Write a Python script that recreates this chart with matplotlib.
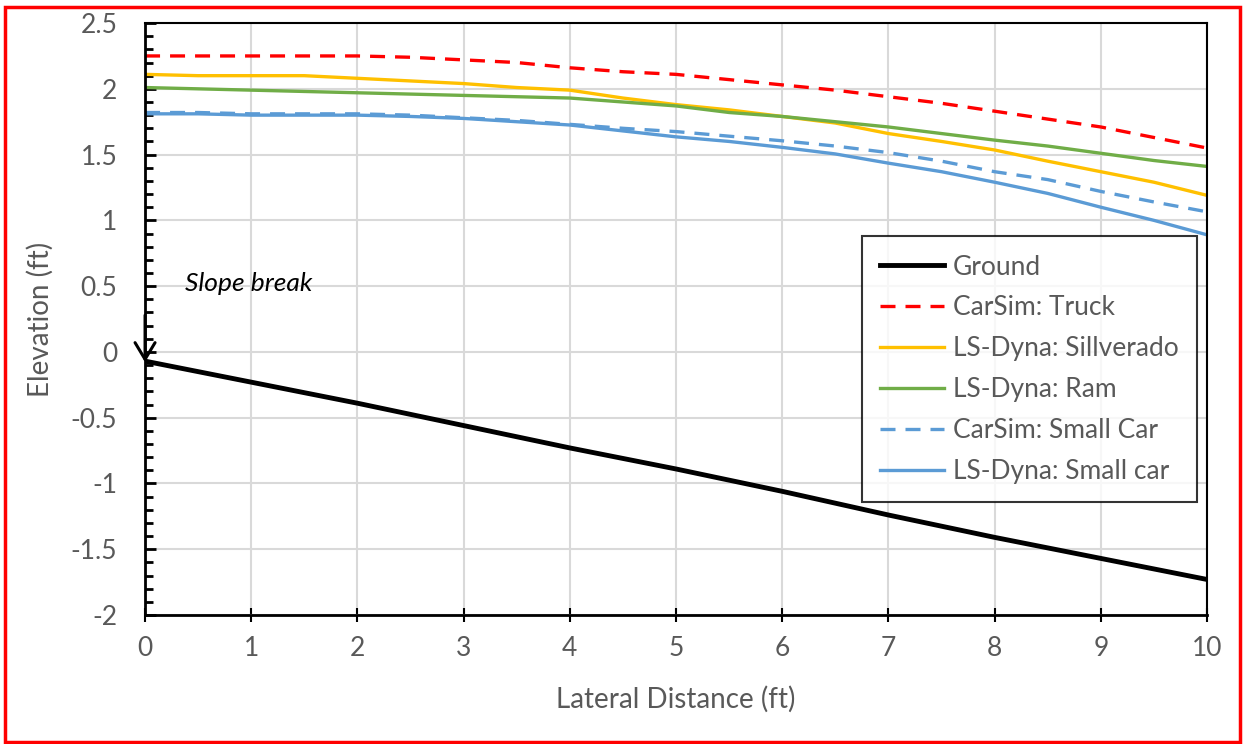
import numpy as np
import matplotlib
matplotlib.use("Agg")
import matplotlib.pyplot as plt
from matplotlib.patches import Rectangle
from matplotlib.ticker import MultipleLocator

# lateral distance (ft) at which the profiles were read
dist = [0, 0.5, 1, 1.5, 2, 2.5, 3, 3.5, 4, 4.5, 5, 5.5, 6, 6.5, 7, 7.5, 8, 8.5, 9, 9.5, 10]

ground_x = [0, 1, 2, 3, 4, 5, 6, 7, 8, 9, 10]
ground = [-0.07, -0.23, -0.39, -0.56, -0.73, -0.89, -1.06, -1.24, -1.41, -1.57, -1.73]

carsim_truck = [2.25, 2.25, 2.25, 2.25, 2.25, 2.24, 2.22, 2.20, 2.16, 2.13, 2.11,
                2.07, 2.03, 1.99, 1.94, 1.89, 1.83, 1.77, 1.71, 1.63, 1.55]
lsdyna_silverado = [2.11, 2.10, 2.10, 2.10, 2.08, 2.06, 2.04, 2.01, 1.99, 1.93, 1.88,
                    1.84, 1.79, 1.74, 1.66, 1.60, 1.535, 1.45, 1.37, 1.29, 1.19]
lsdyna_ram = [2.01, 2.00, 1.99, 1.98, 1.97, 1.96, 1.95, 1.94, 1.93, 1.90, 1.87,
              1.82, 1.79, 1.75, 1.71, 1.66, 1.61, 1.565, 1.51, 1.455, 1.41]
carsim_small = [1.82, 1.82, 1.81, 1.81, 1.81, 1.80, 1.78, 1.76, 1.73, 1.70, 1.675,
                1.64, 1.605, 1.565, 1.515, 1.45, 1.37, 1.31, 1.22, 1.14, 1.065]
lsdyna_small = [1.81, 1.81, 1.80, 1.80, 1.80, 1.79, 1.775, 1.75, 1.725, 1.68, 1.635,
                1.60, 1.555, 1.505, 1.435, 1.37, 1.29, 1.205, 1.10, 1.00, 0.89]

plt.rcParams['font.family'] = ['Lato', 'DejaVu Sans']
gray = '#595959'

fig = plt.figure(figsize=(12.44, 7.44), dpi=100)
ax = fig.add_axes([0.1166, 0.1734, 0.8537, 0.7956])

ax.plot(ground_x, ground, color='black', lw=3.5, label='Ground', zorder=5)
ax.plot(dist, carsim_truck, color='#FF0000', lw=2.4, ls=(0, (4.5, 3)), label='CarSim: Truck')
ax.plot(dist, lsdyna_silverado, color='#FFC000', lw=2.4, label='LS-Dyna: Sillverado')
ax.plot(dist, lsdyna_ram, color='#70AD47', lw=2.4, label='LS-Dyna: Ram')
ax.plot(dist, carsim_small, color='#5B9BD5', lw=2.4, ls=(0, (4.5, 3)), label='CarSim: Small Car')
ax.plot(dist, lsdyna_small, color='#5B9BD5', lw=2.4, label='LS-Dyna: Small car')

ax.set_xlim(0, 10)
ax.set_ylim(-2, 2.5)
ax.xaxis.set_major_locator(MultipleLocator(1))
ax.yaxis.set_minor_locator(MultipleLocator(0.1))
ax.set_yticks(np.arange(-2, 2.51, 0.5))
ax.set_yticklabels(['-2', '-1.5', '-1', '-0.5', '0', '0.5', '1', '1.5', '2', '2.5'])

ax.grid(True, which='major', color='#D9D9D9', lw=1.5, zorder=0)
ax.set_axisbelow(True)

ax.tick_params(axis='y', which='major', direction='in', length=8, width=2,
               labelsize=19, labelcolor=gray, pad=20)
ax.tick_params(axis='y', which='minor', direction='in', length=6, width=2)
ax.tick_params(axis='x', which='major', direction='inout', length=10, width=1.5,
               labelsize=19, labelcolor=gray, pad=10)
ax.tick_params(axis='x', which='minor', length=0)

for side in ['left', 'bottom']:
    ax.spines[side].set_linewidth(2)
for side in ['top', 'right']:
    ax.spines[side].set_linewidth(1.5)

ax.set_xlabel('Lateral Distance (ft)', fontsize=20, color=gray, labelpad=18)
ax.set_ylabel('Elevation (ft)', fontsize=20, color=gray, labelpad=12)

ax.text(0.38, 0.52, 'Slope break', fontsize=19, style='italic', va='center', ha='left')
ax.annotate('', xy=(0, -0.1), xytext=(0, 0.3),
            arrowprops=dict(arrowstyle='->, head_length=0.5, head_width=0.3',
                            color='black', lw=2.2, mutation_scale=24),
            zorder=6, annotation_clip=False)

leg = ax.legend(loc='upper left', bbox_to_anchor=(0.675, 0.64), fontsize=19,
                frameon=True, fancybox=False, edgecolor='black', handlelength=2.4,
                labelcolor=gray, borderpad=0.7, labelspacing=0.6, handletextpad=0.35,
                borderaxespad=0)
leg.get_frame().set_linewidth(1.5)
leg.get_lines()[0].set_linewidth(3.5)

fig.patches.append(Rectangle((0.004, 0.003), 0.993, 0.988, transform=fig.transFigure,
                             fill=False, edgecolor='#FF0000', lw=2.5))

fig.savefig('out.png', dpi=100)
